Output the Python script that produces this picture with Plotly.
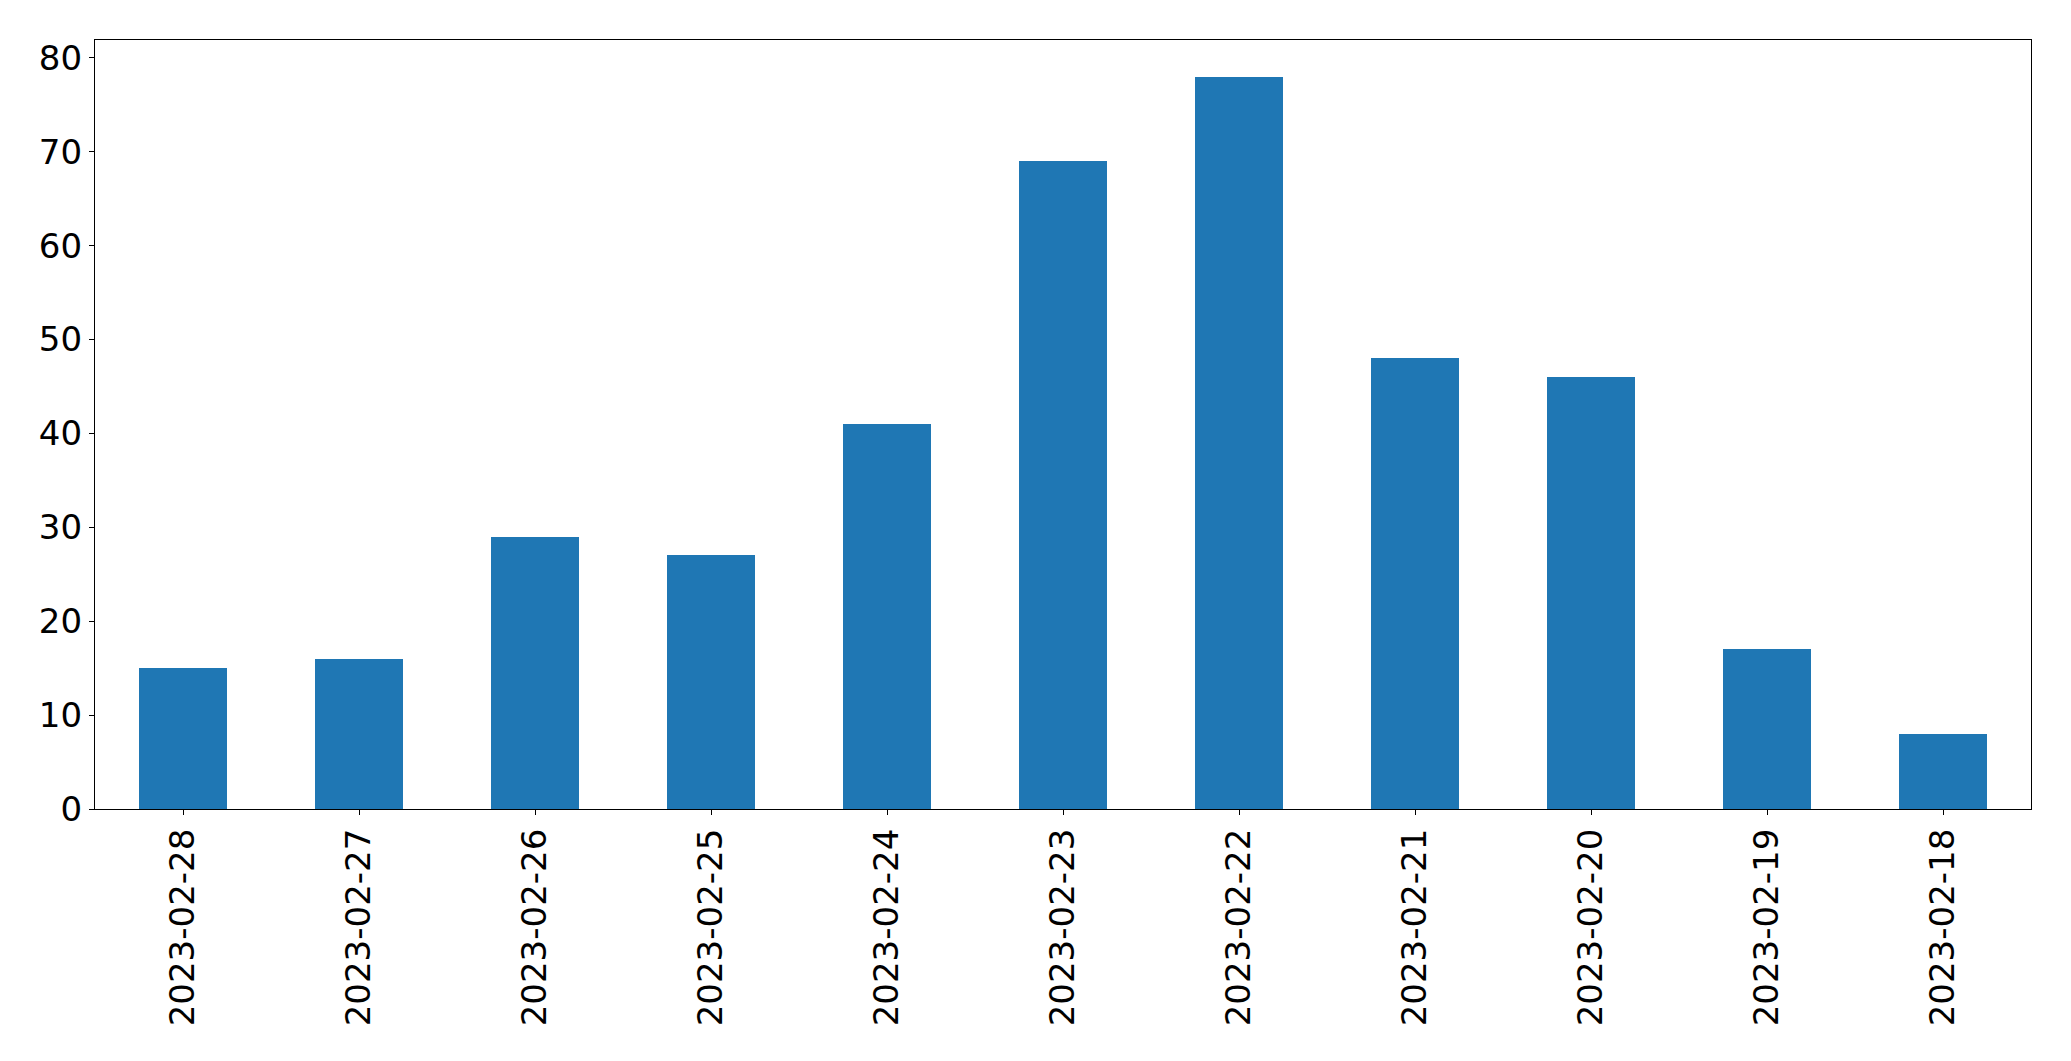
import plotly.graph_objects as go

dates = ["2023-02-28", "2023-02-27", "2023-02-26", "2023-02-25", "2023-02-24",
         "2023-02-23", "2023-02-22", "2023-02-21", "2023-02-20", "2023-02-19", "2023-02-18"]
counts = [15, 16, 29, 27, 41, 69, 78, 48, 46, 17, 8]
y_ticks = [0, 10, 20, 30, 40, 50, 60, 70, 80]

fig = go.Figure(go.Bar(x=dates, y=counts, marker_color="#1f77b4", marker_line_width=0, width=0.5))

# page body has an 8px margin, so offsets are compensated
fig.update_layout(
    width=2055, height=1045,
    margin=dict(l=87, r=32, t=32, b=244, autoexpand=False),
    paper_bgcolor="white", plot_bgcolor="white",
    font=dict(family="DejaVu Sans", size=34, color="black"),
    showlegend=False,
    bargap=0,
)
fig.update_xaxes(
    type="category", range=[-0.5, len(dates) - 0.5],
    showline=True, linecolor="black", linewidth=1.2, mirror=True,
    ticks="outside", ticklen=5, tickwidth=1.2, tickcolor="black",
    tickangle=-90, showgrid=False, zeroline=False,
)
fig.update_yaxes(
    range=[0, 81.9], tickvals=y_ticks,
    showline=True, linecolor="black", linewidth=1.2, mirror=True,
    ticks="outside", ticklen=5, tickwidth=1.2, tickcolor="black",
    showgrid=False, zeroline=False,
)
fig.write_html("out.html")
